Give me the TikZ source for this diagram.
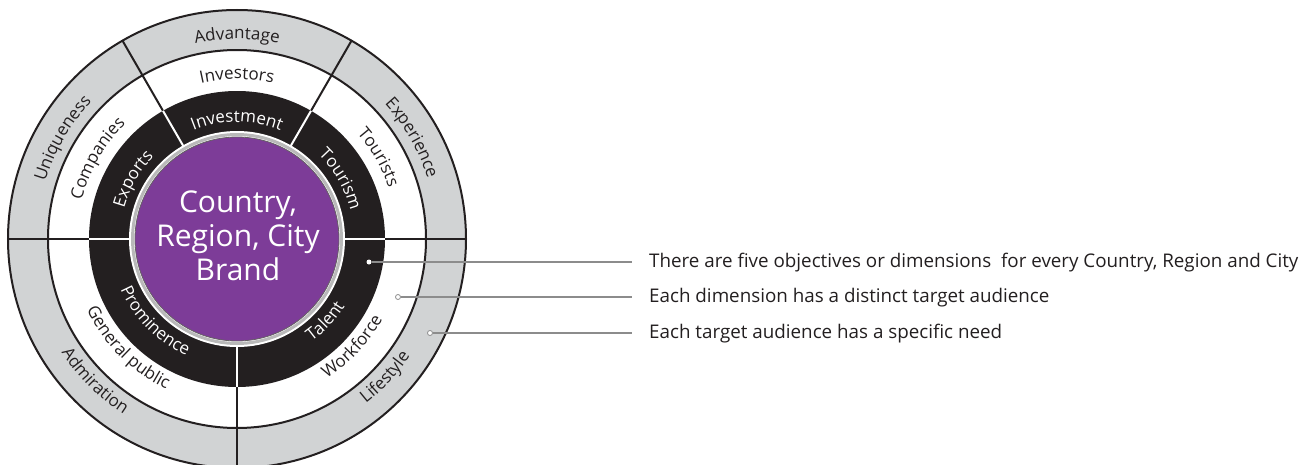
\documentclass[tikz,border=0pt]{standalone}
\usepackage{fontspec}
\setmainfont{Open Sans}
\usepackage{tikz}
\usetikzlibrary{decorations.text,calc}

\definecolor{brandpurple}{HTML}{7D3C98}
\definecolor{ringblack}{HTML}{231F20}
\definecolor{ringgray}{HTML}{D1D3D4}
\definecolor{leadergray}{HTML}{8C8C8C}

\newcommand{\ringfont}{\fontsize{17}{20}\selectfont}
\newcommand{\notefont}{\fontsize{18.8}{22}\selectfont}

\begin{document}
\begin{tikzpicture}[
    x=1pt, y=1pt,
    ringline/.style={draw=ringblack, line width=2pt},
    spoke/.style={ringblack, line width=2pt},
    innerspoke/.style={white, line width=2pt},
    lbl/.style={decorate, decoration={text along path, text align=center,
                text color=ringblack, text={|\ringfont|#1}}},
    lblw/.style={decorate, decoration={text along path, text align=center,
                 text color=white, text={|\ringfont|#1}}},
    brand/.style={align=center, text=white, font=\fontsize{30}{34}\selectfont},
    dotfull/.style={circle, fill=white, inner sep=0pt, minimum size=5pt},
    dotring/.style={circle, draw=leadergray, fill=white, line width=0.8pt,
                    inner sep=0pt, minimum size=5pt},
    leader/.style={leadergray, line width=1.1pt},
    note/.style={anchor=base west, inner sep=0pt, text=ringblack, font=\notefont}
]
\useasboundingbox (-237,-225) rectangle (1072,239);

% rings
\path[fill=ringgray, ringline] (0,0) circle[radius=229];
\path[fill=white, ringline] (0,0) circle[radius=189];
\path[fill=ringblack] (0,0) circle[radius=148];

% spokes
\draw[spoke] (0:148) -- (0:229);
\draw[spoke] (60:148) -- (60:229);
\draw[spoke] (120:148) -- (120:229);
\draw[spoke] (180:148) -- (180:229);
\draw[spoke] (270:148) -- (270:229);
\draw[innerspoke] (0:106) -- (0:148);
\draw[innerspoke] (60:106) -- (60:148);
\draw[innerspoke] (120:106) -- (120:148);
\draw[innerspoke] (180:106) -- (180:148);
\draw[innerspoke] (270:106) -- (270:148);

% centre
\fill[white] (0,0) circle[radius=108];
\draw[gray!55, line width=3pt] (0,0) circle[radius=104.5];
\path[fill=brandpurple, draw=ringblack!70, line width=0.8pt] (0,0) circle[radius=102];
\node[brand] (brand) at (1,3) {Country,\\Region, City\\Brand};

% upper labels
\path[lbl=Advantage] (130:200) arc[start angle=130, end angle=50, radius=200];
\path[lbl=Investors] (130:160) arc[start angle=130, end angle=50, radius=160];
\path[lblw=Investment] (130:117) arc[start angle=130, end angle=50, radius=117];
\path[lbl=Uniqueness] (190:200) arc[start angle=190, end angle=110, radius=200];
\path[lbl=Companies] (190:160) arc[start angle=190, end angle=110, radius=160];
\path[lblw=Exports] (190:117) arc[start angle=190, end angle=110, radius=117];
\path[lbl=Experience] (70:200) arc[start angle=70, end angle=-10, radius=200];
\path[lbl=Tourists] (70:160) arc[start angle=70, end angle=-10, radius=160];
\path[lblw=Tourism] (70:117) arc[start angle=70, end angle=-10, radius=117];

% lower labels
\path[lbl=Admiration] (185:209) arc[start angle=185, end angle=265, radius=209];
\path[lbl=General public] (185:166) arc[start angle=185, end angle=265, radius=166];
\path[lblw=Prominence] (185:127) arc[start angle=185, end angle=265, radius=127];
\path[lbl=Lifestyle] (277:209) arc[start angle=277, end angle=357, radius=209];
\path[lbl=Workforce] (277:166) arc[start angle=277, end angle=357, radius=166];
\path[lblw=Talent] (277:127) arc[start angle=277, end angle=357, radius=127];

% callouts
\node[dotfull] (d1) at (132,-23) {};
\node[dotring] (d2) at (161,-58) {};
\node[dotring] (d3) at (193,-94) {};
\coordinate (e1) at (395,-23);
\coordinate (e2) at (395,-58);
\coordinate (e3) at (395,-94);
\node[note] (n1) at (412,-28.5) {There are five objectives or dimensions \ for every Country, Region and City};
\node[note] (n2) at (412,-63.5) {Each dimension has a distinct target audience};
\node[note] (n3) at (412,-99.5) {Each target audience has a specific need};
\draw[leader] (d1) -- (e1);
\draw[leader] (d2) -- (e2);
\draw[leader] (d3) -- (e3);

\end{tikzpicture}
\end{document}
